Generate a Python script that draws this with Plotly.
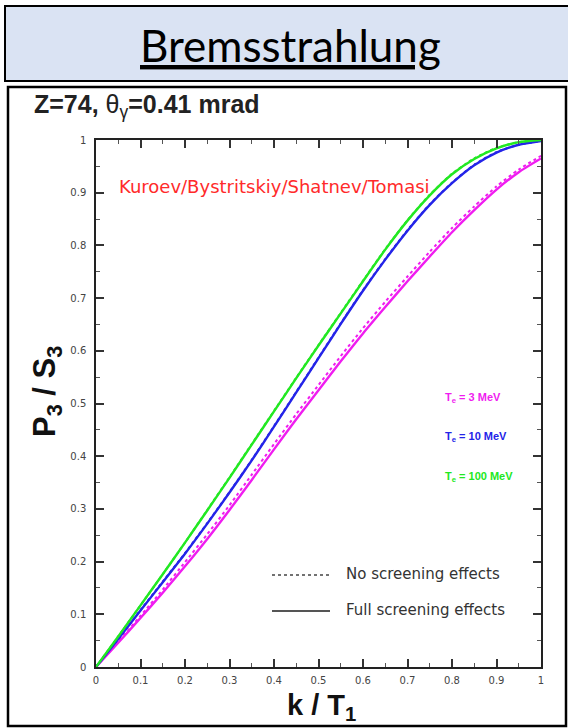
import plotly.graph_objects as go

# ---- data ----
k = [0.0, 0.05, 0.1, 0.15, 0.2, 0.25, 0.3, 0.35, 0.4, 0.45, 0.5,
     0.55, 0.6, 0.65, 0.7, 0.75, 0.8, 0.85, 0.9, 0.95, 1.0]

p3_3mev_full = [0.0, 0.046, 0.093, 0.141, 0.191, 0.243, 0.298, 0.355, 0.413, 0.470, 0.525,
                0.580, 0.633, 0.683, 0.732, 0.779, 0.825, 0.867, 0.906, 0.939, 0.965]
p3_3mev_none = [0.0, 0.048, 0.097, 0.147, 0.199, 0.252, 0.307, 0.365, 0.423, 0.480, 0.535,
                0.590, 0.643, 0.693, 0.741, 0.788, 0.833, 0.874, 0.912, 0.944, 0.970]
p3_10mev_full = [0.0, 0.053, 0.107, 0.161, 0.215, 0.272, 0.331, 0.392, 0.456, 0.521, 0.586,
                 0.651, 0.714, 0.773, 0.828, 0.877, 0.918, 0.952, 0.976, 0.991, 0.998]
p3_10mev_none = [0.0, 0.053, 0.108, 0.162, 0.216, 0.273, 0.332, 0.393, 0.457, 0.522, 0.587,
                 0.652, 0.715, 0.774, 0.829, 0.878, 0.919, 0.953, 0.977, 0.991, 0.998]
p3_100mev_full = [0.0, 0.058, 0.117, 0.176, 0.236, 0.297, 0.359, 0.422, 0.485, 0.548, 0.610,
                  0.671, 0.732, 0.792, 0.847, 0.895, 0.935, 0.964, 0.984, 0.996, 1.000]
p3_100mev_none = [0.0, 0.058, 0.117, 0.176, 0.236, 0.298, 0.360, 0.423, 0.486, 0.549, 0.611,
                  0.672, 0.733, 0.793, 0.848, 0.896, 0.936, 0.965, 0.985, 0.996, 1.000]

x_ticks = [0, 0.1, 0.2, 0.3, 0.4, 0.5, 0.6, 0.7, 0.8, 0.9, 1]
x_tick_text = ["0", "0.1", "0.2", "0.3", "0.4", "0.5", "0.6", "0.7", "0.8", "0.9", "1"]
y_ticks = [0, 0.1, 0.2, 0.3, 0.4, 0.5, 0.6, 0.7, 0.8, 0.9, 1]
y_tick_text = ["0", "0.1", "0.2", "0.3", "0.4", "0.5", "0.6", "0.7", "0.8", "0.9", "1"]

MAGENTA = "#f01cf0"
BLUE = "#2424e8"
GREEN = "#22e822"

W, H = 568, 728
L, R, T, B = 96, 541, 140, 667   # plot area in px


def px(xp):
    return (xp - L) / (R - L)


def py(yp):
    return (B - yp) / (B - T)


fig = go.Figure()

series = [
    (p3_3mev_none, MAGENTA, "dot"),
    (p3_10mev_none, BLUE, "dot"),
    (p3_100mev_none, GREEN, "dot"),
    (p3_3mev_full, MAGENTA, "solid"),
    (p3_10mev_full, BLUE, "solid"),
    (p3_100mev_full, GREEN, "solid"),
]
for vals, col, dash in series:
    fig.add_trace(go.Scatter(
        x=k, y=vals, mode="lines",
        line=dict(color=col, width=2.4 if dash == "solid" else 2.0, dash=dash,
                  shape="spline", smoothing=0.6),
        showlegend=False, hoverinfo="skip"))

axis_common = dict(
    range=[0, 1], showgrid=False, zeroline=False,
    showline=True, linecolor="#222", linewidth=1.5, mirror="allticks",
    ticks="inside", ticklen=8, tickwidth=1.7, tickcolor="#333",
    tickfont=dict(family="DejaVu Sans", size=10, color="#444"),
    minor=dict(ticks="inside", ticklen=4.5, tickwidth=1.4, tickcolor="#555",
               nticks=5, showgrid=False),
)

fig.update_xaxes(**axis_common, tickmode="array", tickvals=x_ticks, ticktext=x_tick_text,
                 ticklabelstandoff=3)
fig.update_yaxes(**axis_common, tickmode="array", tickvals=y_ticks, ticktext=y_tick_text,
                 ticklabelstandoff=6)

shapes = [
    # header box
    dict(type="rect", xref="paper", yref="paper", x0=px(5), x1=px(580), y0=py(81), y1=py(6),
         fillcolor="#dae3f3", line=dict(color="black", width=2), layer="below"),
    # chart panel box (outline only)
    dict(type="rect", xref="paper", yref="paper", x0=px(8), x1=px(566), y0=py(726), y1=py(87),
         fillcolor="rgba(0,0,0,0)", line=dict(color="black", width=2.5), layer="above"),
    # legend sample lines
    dict(type="line", xref="paper", yref="paper", x0=px(272), x1=px(330), y0=py(575), y1=py(575),
         line=dict(color="#444", width=1.5, dash="dot")),
    dict(type="line", xref="paper", yref="paper", x0=px(272), x1=px(330), y0=py(611), y1=py(611),
         line=dict(color="#555", width=2.2)),
]

annotations = [
    dict(text="<u>Bremsstrahlung</u>", x=px(290), y=py(45), xref="paper", yref="paper",
         showarrow=False, font=dict(family="Lato", size=44, color="black"),
         xanchor="center", yanchor="middle"),
    dict(text="<b>Z=74, </b>θ<sub>γ</sub><b>=0.41 mrad</b>", x=px(32), y=py(106),
         xref="paper", yref="paper", showarrow=False,
         font=dict(family="Liberation Sans", size=25, color="#222"),
         xanchor="left", yanchor="middle"),
    dict(text="Kuroev/Bystritskiy/Shatnev/Tomasi", x=px(117), y=py(186), xref="paper", yref="paper",
         showarrow=False, font=dict(family="DejaVu Sans", size=18, color="#ff2a2a"),
         xanchor="left", yanchor="middle"),
    dict(text="<b>T<sub>e</sub> = 3 MeV</b>", x=px(443), y=py(398), xref="paper", yref="paper",
         showarrow=False, font=dict(family="Liberation Sans", size=11, color=MAGENTA),
         xanchor="left", yanchor="middle"),
    dict(text="<b>T<sub>e</sub> = 10 MeV</b>", x=px(443), y=py(437), xref="paper", yref="paper",
         showarrow=False, font=dict(family="Liberation Sans", size=11, color=BLUE),
         xanchor="left", yanchor="middle"),
    dict(text="<b>T<sub>e</sub> = 100 MeV</b>", x=px(443), y=py(477), xref="paper", yref="paper",
         showarrow=False, font=dict(family="Liberation Sans", size=11, color=GREEN),
         xanchor="left", yanchor="middle"),
    dict(text="No screening effects", x=px(344), y=py(574), xref="paper", yref="paper",
         showarrow=False, font=dict(family="DejaVu Sans", size=15, color="#333"),
         xanchor="left", yanchor="middle"),
    dict(text="Full screening effects", x=px(344), y=py(610), xref="paper", yref="paper",
         showarrow=False, font=dict(family="DejaVu Sans", size=15, color="#333"),
         xanchor="left", yanchor="middle"),
    dict(text="<b>P<sub>3</sub> / S<sub>3</sub></b>", x=px(47), y=py(392), xref="paper", yref="paper",
         showarrow=False, textangle=-90, font=dict(family="Liberation Sans", size=31, color="#111"),
         xanchor="center", yanchor="middle"),
    dict(text="<b>k / T<sub>1</sub></b>", x=px(321), y=py(707), xref="paper", yref="paper",
         showarrow=False, font=dict(family="Liberation Sans", size=29, color="#111"),
         xanchor="center", yanchor="middle"),
]

fig.update_layout(
    width=W, height=H,
    margin=dict(l=L, r=W - R, t=T, b=H - B, pad=0),
    paper_bgcolor="white", plot_bgcolor="white",
    shapes=shapes, annotations=annotations,
    showlegend=False,
)

fig.write_html("out.html", config={"displayModeBar": False},
               post_script="document.body.style.margin='0';document.body.style.overflow='hidden';")
